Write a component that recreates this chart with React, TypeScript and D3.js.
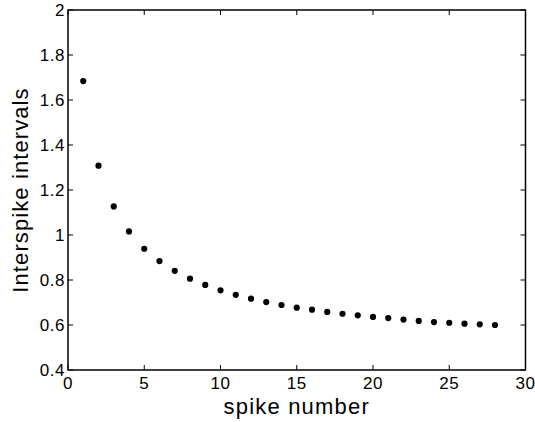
import * as d3 from "d3";
import React, { useEffect, useRef } from "react";

// values
const spikeNumbers = [1, 2, 3, 4, 5, 6, 7, 8, 9, 10, 11, 12, 13, 14, 15, 16, 17, 18, 19, 20, 21, 22, 23, 24, 25, 26, 27, 28];
const intervals = [
  1.684, 1.308, 1.127, 1.016, 0.939, 0.884, 0.841, 0.806, 0.778, 0.754,
  0.734, 0.717, 0.702, 0.689, 0.677, 0.668, 0.658, 0.65, 0.643, 0.636,
  0.631, 0.624, 0.618, 0.613, 0.61, 0.606, 0.603, 0.6,
];
const xTicks = [0, 5, 10, 15, 20, 25, 30];
const yTicks = [0.4, 0.6, 0.8, 1, 1.2, 1.4, 1.6, 1.8, 2];

const App = () => {
  const ref = useRef<SVGSVGElement>(null);

  useEffect(() => {
    const width = 535;
    const height = 422;
    const left = 68;
    const right = 525.5;
    const top = 10;
    const bottom = 370;
    const tick = 5;
    const font = "'Liberation Sans', Arial, Helvetica, sans-serif";

    const x = d3.scaleLinear().domain([0, 30]).range([left, right]);
    const y = d3.scaleLinear().domain([0.4, 2]).range([bottom, top]);

    const svg = d3.select(ref.current).attr("width", width).attr("height", height);
    svg.selectAll("*").remove();

    svg.append("rect").attr("width", width).attr("height", height).attr("fill", "white");

    // ticks, inward, on all four sides
    const g = svg.append("g").attr("stroke", "black").attr("stroke-width", 1);
    xTicks.forEach((t) => {
      g.append("line").attr("x1", x(t)).attr("x2", x(t)).attr("y1", bottom).attr("y2", bottom - tick);
      g.append("line").attr("x1", x(t)).attr("x2", x(t)).attr("y1", top).attr("y2", top + tick);
    });
    yTicks.forEach((t) => {
      g.append("line").attr("x1", left).attr("x2", left + tick).attr("y1", y(t)).attr("y2", y(t));
      g.append("line").attr("x1", right).attr("x2", right - tick).attr("y1", y(t)).attr("y2", y(t));
    });

    svg
      .append("rect")
      .attr("x", left)
      .attr("y", top)
      .attr("width", right - left)
      .attr("height", bottom - top)
      .attr("fill", "none")
      .attr("stroke", "black")
      .attr("stroke-width", 1.5);

    svg
      .append("g")
      .selectAll("text")
      .data(xTicks)
      .join("text")
      .attr("x", (d) => x(d))
      .attr("y", bottom + 19)
      .attr("text-anchor", "middle")
      .attr("font-family", font)
      .attr("font-size", 17)
      .attr("letter-spacing", 0.5)
      .text((d) => String(d));

    svg
      .append("g")
      .selectAll("text")
      .data(yTicks)
      .join("text")
      .attr("x", left - 3)
      .attr("y", (d) => y(d) + 6)
      .attr("text-anchor", "end")
      .attr("font-family", font)
      .attr("font-size", 17)
      .attr("letter-spacing", 0.5)
      .text((d) => String(d));

    svg
      .append("g")
      .attr("fill", "black")
      .selectAll("circle")
      .data(intervals)
      .join("circle")
      .attr("cx", (_, i) => x(spikeNumbers[i]))
      .attr("cy", (d) => y(d))
      .attr("r", 3.1);

    svg
      .append("text")
      .attr("x", (left + right) / 2)
      .attr("y", 414)
      .attr("text-anchor", "middle")
      .attr("font-family", font)
      .attr("font-size", 22)
      .attr("letter-spacing", 1.2)
      .text("spike number");

    svg
      .append("text")
      .attr("transform", `translate(28, ${(top + bottom) / 2}) rotate(-90)`)
      .attr("text-anchor", "middle")
      .attr("font-family", font)
      .attr("font-size", 22)
      .attr("letter-spacing", 1.1)
      .text("Interspike intervals");
  }, []);

  return <svg ref={ref} style={{ position: "absolute", left: 0, top: 0 }} />;
};

export default App;
